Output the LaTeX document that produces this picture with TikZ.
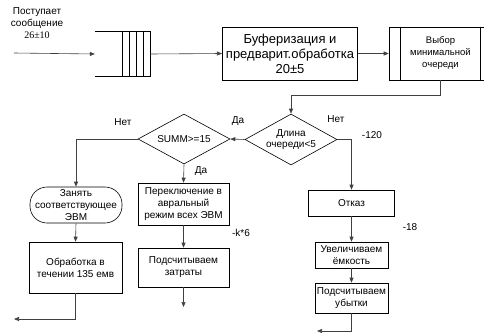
\documentclass[tikz,border=0pt]{standalone}
\usepackage{fontspec}
\setmainfont{Liberation Sans}
\newfontfamily\numfont{Liberation Serif}
\usetikzlibrary{shapes.geometric,arrows.meta}

\begin{document}
\begin{tikzpicture}[x=1pt,y=-1pt,
    blok/.style={draw, line width=0.6pt, rectangle, align=center, inner sep=1pt,
      font=\fontsize{10}{12}\selectfont},
    romb/.style={draw, line width=0.6pt, diamond, aspect=2, inner sep=0pt, align=center,
      font=\fontsize{10}{11}\selectfont, minimum width=92pt, minimum height=51pt},
    svyaz/.style={line width=0.6pt, black!75},
    strelka/.style={svyaz, -{Triangle[length=5pt,width=4pt]}},
    metka/.style={font=\fontsize{10}{12}\selectfont, align=center}
  ]

    \useasboundingbox (0,0) rectangle (484,332);

    % vkhod i ochered'
    \node[metka] (postup) at (37,23) {Поступает\\сообщение\\{\numfont 26±10}};
    \coordinate (vhod) at (14,53);
    \node[minimum width=55pt, minimum height=45pt, inner sep=0pt] (ochered) at (122.5,54) {};
    \draw[line width=0.6pt] (ochered.north west) -- (ochered.north east);
    \draw[line width=0.6pt] (ochered.south west) -- (ochered.south east);
    \foreach \k in {0,...,4}
      \draw[line width=0.6pt] ([xshift=-\k*7pt]ochered.north east) -- ([xshift=-\k*7pt]ochered.south east);

    \node[blok, minimum width=135.5pt, minimum height=53pt, font=\fontsize{13}{15}\selectfont]
      (bufer) at (290,53.5) {Буферизация и\\предварит.обработка\\20±5};
    \node[blok, minimum width=103pt, minimum height=53pt, font=\fontsize{9.5}{12}\selectfont]
      (vybor) at (440.5,53.5) {Выбор\\минимальной\\очереди};
    \draw[line width=0.6pt] ([xshift=12pt]vybor.north west) -- ([xshift=12pt]vybor.south west);
    \draw[line width=0.6pt] ([xshift=-12pt]vybor.north east) -- ([xshift=-12pt]vybor.south east);

    % usloviya
    \node[romb] (dlina) at (291,139.5) {Длина\\очереди<5};
    \node[romb, minimum height=50pt] (summ) at (184,139) {SUMM>=15};

    % levaya vetv'
    \node[blok, minimum width=92pt, minimum height=36pt, rounded corners=17pt]
      (zanyat) at (76,205) {Занять\\соответствующее\\ЭВМ};
    \node[blok, minimum width=93pt, minimum height=51pt] (obrabotka) at (75.5,267.5)
      {Обработка в\\течении 135 емв};
    \coordinate (obrvyhod) at (14,319);

    % srednyaya vetv'
    \node[blok, minimum width=91pt, minimum height=42pt] (pereklyuch) at (183.5,204)
      {Переключение в\\авральный\\режим всех ЭВМ};
    \node[blok, minimum width=91pt, minimum height=39pt] (zatraty) at (183.5,267.5)
      {Подсчитываем\\затраты};
    \coordinate (zatrvyhod) at (183.5,307);

    % pravaya vetv'
    \node[blok, minimum width=86pt, minimum height=26pt] (otkaz) at (351.5,203) {Отказ};
    \node[blok, minimum width=73pt, minimum height=26pt] (uvelich) at (351.5,255)
      {Увеличиваем\\ёмкость};
    \node[blok, minimum width=73pt, minimum height=30pt] (ubytki) at (351.5,298)
      {Подсчитываем\\убытки};
    \coordinate (ubytvyhod) at (317,331);

    % svyazi
    \draw[strelka] (vhod) -- (ochered.west);
    \draw[strelka] (ochered.east) -- (bufer.west);
    \draw[strelka] (bufer.east) -- (vybor.west);
    \draw[strelka] (vybor.south) -- ++(0,15) -| (dlina.north);
    \draw[strelka] (dlina.west) -- (summ.east);
    \draw[strelka] (dlina.east) -| (otkaz.north);
    \draw[strelka] (summ.west) -| (zanyat.north);
    \draw[strelka] (summ.south) -- (pereklyuch.north);
    \draw[strelka] (zanyat.south) -- (obrabotka.north);
    \draw[strelka] (obrabotka.south) |- (obrvyhod);
    \draw[strelka] (pereklyuch.south) -- (zatraty.north);
    \draw[strelka] (zatraty.south) -- (zatrvyhod);
    \draw[strelka] (otkaz.south) -- (uvelich.north);
    \draw[strelka] (uvelich.south) -- (ubytki.north);
    \draw[strelka] (ubytki.south) |- (ubytvyhod);

    % metki
    \node[metka] (da1) at (238,121) {Да};
    \node[metka] (net1) at (336,119) {Нет};
    \node[metka] (minus120) at (372,135) {-120};
    \node[metka] (net2) at (123,122) {Нет};
    \node[metka] (da2) at (201,171) {Да};
    \node[metka] (minusk6) at (241,233) {-k*6};
    \node[metka] (minus18) at (410,227) {-18};

\end{tikzpicture}
\end{document}
